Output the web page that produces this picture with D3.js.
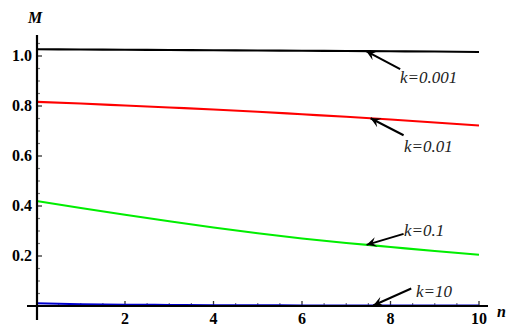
<!DOCTYPE html>
<html><head><meta charset="utf-8">
<script src="https://cdn.jsdelivr.net/npm/d3@7"></script>
<style>body{margin:0;background:#fff}svg{display:block}</style>
</head><body>
<svg id="c" width="506" height="326"></svg>
<script>
const xs = [0,1,2,3,4,5,6,7,8,9,10];
const k0001 = [1.027,1.026,1.025,1.024,1.023,1.022,1.021,1.020,1.019,1.018,1.016];
const k001  = [0.817,0.810,0.802,0.794,0.786,0.777,0.767,0.757,0.746,0.734,0.722];
const k01   = [0.420,0.392,0.365,0.339,0.314,0.291,0.270,0.252,0.236,0.220,0.205];
const k10   = [0.011,0.007,0.005,0.004,0.003,0.003,0.002,0.002,0.002,0.002,0.002];
const seriesNames = ["k=0.001","k=0.01","k=0.1","k=10"];
const seriesColors = ["#000000","#ff0000","#00ee00","#0000cc"];
const xTicks = [2,4,6,8,10];
const yTicks = [0.2,0.4,0.6,0.8,1.0];
const annotX = [7.45,7.55,7.46,7.61];
const FONT = "Liberation Serif";

const svg = d3.select("#c");
const x = d3.scaleLinear().domain([0,10]).range([36.5,479]);
const y = d3.scaleLinear().domain([0,1]).range([306,56]);
const all = [k0001,k001,k01,k10];

svg.append("defs").append("marker").attr("id","ah")
  .attr("viewBox","0 0 10 10").attr("refX",10).attr("refY",5)
  .attr("markerWidth",10).attr("markerHeight",10).attr("markerUnits","userSpaceOnUse")
  .attr("orient","auto")
  .append("path").attr("d","M0,0 L10,5 L0,10 L4,5 Z").attr("fill","#000");

const g = svg.append("g");
d3.range(0.05,1.08,0.05).forEach(v=>{
  const maj = yTicks.some(t=>Math.abs(t-v)<1e-6);
  g.append("line").attr("x1",37).attr("x2",37+(maj?5:3)).attr("y1",y(v)).attr("y2",y(v))
   .attr("stroke",maj?"#333":"#777").attr("stroke-width",maj?1.3:1.2);
});
d3.range(0.5,10.01,0.5).forEach(v=>{
  const maj = xTicks.some(t=>Math.abs(t-v)<1e-6);
  g.append("line").attr("x1",x(v)).attr("x2",x(v)).attr("y1",306).attr("y2",306-(maj?5:3))
   .attr("stroke",maj?"#333":"#777").attr("stroke-width",maj?1.3:1.2);
});

const line = d3.line().x((d,i)=>x(xs[i])).y(d=>y(d)).curve(d3.curveMonotoneX);
all.forEach((s,i)=>{
  svg.append("path").datum(s).attr("d",line).attr("fill","none")
    .attr("stroke",seriesColors[i]).attr("stroke-width",2.2);
});

svg.append("line").attr("x1",37).attr("x2",37).attr("y1",35).attr("y2",320).attr("stroke","#000").attr("stroke-width",2.2);
svg.append("line").attr("x1",27).attr("x2",488).attr("y1",306).attr("y2",306).attr("stroke","#000").attr("stroke-width",2.2);

yTicks.forEach(t=>{
  svg.append("text").attr("x",32).attr("y",y(t)+5).attr("text-anchor","end")
    .style("font-family",FONT).style("font-weight","bold").style("font-size","16px")
    .text(t.toFixed(1));
});
xTicks.forEach(t=>{
  svg.append("text").attr("x",x(t)).attr("y",323.5).attr("text-anchor","middle")
    .style("font-family",FONT).style("font-weight","bold").style("font-size","16px")
    .text(t);
});
svg.append("text").attr("x",28).attr("y",23)
  .style("font-family",FONT).style("font-weight","bold").style("font-style","italic").style("font-size","16px").text("M");
svg.append("text").attr("x",497).attr("y",317)
  .style("font-family",FONT).style("font-weight","bold").style("font-style","italic").style("font-size","16px").text("n");

const interp = (s,xv)=>{const i=Math.floor(xv);const f=xv-i;return s[i]*(1-f)+s[Math.min(i+1,10)]*f;};
const tailOff = [[34,18],[33,17],[37,-11],[38,-17]];
const textPos = [[400,83],[404,151.5],[404,236],[416,296.5]];
all.forEach((s,i)=>{
  const tx = x(annotX[i]), ty = y(interp(s,annotX[i]));
  svg.append("line").attr("x1",tx+tailOff[i][0]).attr("y1",ty+tailOff[i][1])
    .attr("x2",tx).attr("y2",ty)
    .attr("stroke","#000").attr("stroke-width",2).attr("marker-end","url(#ah)");
  svg.append("text").attr("x",textPos[i][0]).attr("y",textPos[i][1])
    .style("font-family",FONT).style("font-style","italic").style("font-size","17px")
    .attr("fill","#222").text(seriesNames[i]);
});
</script>
</body></html>
